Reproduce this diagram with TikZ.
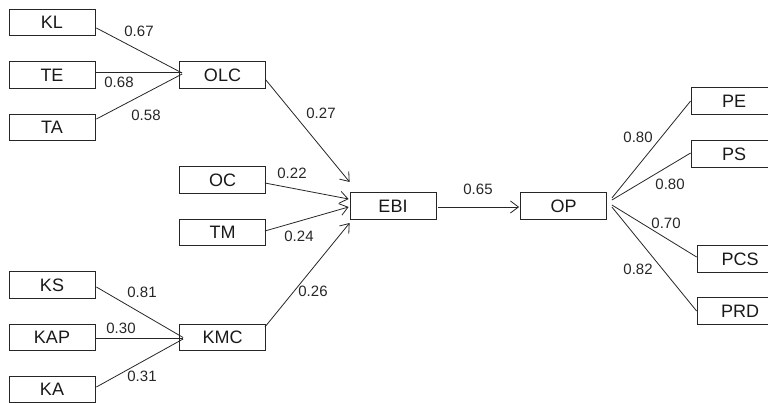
\documentclass[tikz,border=0pt]{standalone}
\usepackage{fontspec}
\setmainfont{Liberation Sans}
\usetikzlibrary{arrows.meta,calc}
\begin{document}
\begin{tikzpicture}[x=1pt,y=-1pt,
 box/.style={draw=black!85, line width=0.8pt, minimum width=86pt, minimum height=26.5pt, inner sep=0pt, font=\fontsize{18}{18}\selectfont, text=black!90},
 lbl/.style={font=\fontsize{15}{15}\selectfont, inner sep=0pt, text=black!85},
 ln/.style={draw=black!85, line width=0.8pt},
 arr/.style={ln, -{Straight Barb[length=8pt,width=12pt,line width=0.8pt]}}]
\useasboundingbox (0,0) rectangle (768,402);
\clip (0,0) rectangle (768,402);
% nodes
\node[box] (KL) at (52,22.5) {KL};
\node[box] (TE) at (52,75) {TE};
\node[box] (TA) at (52,127.5) {TA};
\node[box] (OLC) at (222.5,75) {OLC};
\node[box] (OC) at (222.5,180) {OC};
\node[box] (TM) at (222.5,232.5) {TM};
\node[box] (EBI) at (393,206) {EBI};
\node[box] (OP) at (563.5,206) {OP};
\node[box] (KS) at (52,285) {KS};
\node[box] (KAP) at (52,337.5) {KAP};
\node[box] (KA) at (52,389.5) {KA};
\node[box] (KMC) at (222.5,337.5) {KMC};
\node[box] (PE) at (734,101) {PE};
\node[box] (PS) at (734,154) {PS};
\node[box] (PCS) at (740,259) {PCS};
\node[box] (PRD) at (740,311) {PRD};
% edges into OLC
\draw[ln] ($(KL.east)+(1,5.5)$) -- ($(OLC.west)+(3,-2)$);
\draw[ln] ($(TE.east)+(1,-3)$) -- ($(OLC.west)+(3,-3)$);
\draw[ln] ($(TA.east)+(1,-8.5)$) -- ($(OLC.west)+(3,-1)$);
% edges into KMC
\draw[ln] ($(KS.east)+(1,2)$) -- ($(KMC.west)+(4,0)$);
\draw[ln] ($(KAP.east)+(1,0.5)$) -- ($(KMC.west)+(4,0.5)$);
\draw[ln] ($(KA.east)+(1,-2.5)$) -- ($(KMC.west)+(4,1.5)$);
% edges into EBI
\draw[arr] ($(OLC.east)+(0,5)$) -- ($(EBI.west)+(0,-24)$);
\draw[arr] ($(OC.east)+(-1,3)$) -- ($(EBI.west)+(-1,-7)$);
\draw[arr] ($(TM.east)+(-1,-1.5)$) -- ($(EBI.west)+(-1,1)$);
\draw[arr] ($(KMC.east)+(-1,-10.5)$) -- ($(EBI.west)+(0,17)$);
\draw[arr] ($(EBI.east)+(2,1)$) -- ($(OP.west)+(-1,1)$);
% edges out of OP
\draw[ln] ($(OP.east)+(5,-8)$) -- (PE.west);
\draw[ln] ($(OP.east)+(5,-6)$) -- ($(PS.west)+(0,-1)$);
\draw[ln] ($(OP.east)+(5,-1)$) -- ($(PCS.west)+(0,-2)$);
\draw[ln] ($(OP.east)+(5,1)$) -- (PRD.west);
% labels
\node[lbl] (l1) at (139,31) {0.67};
\node[lbl] (l2) at (119,82) {0.68};
\node[lbl] (l3) at (146,115) {0.58};
\node[lbl] (l4) at (321,113) {0.27};
\node[lbl] (l5) at (292,173) {0.22};
\node[lbl] (l6) at (299,236) {0.24};
\node[lbl] (l7) at (313,291) {0.26};
\node[lbl] (l8) at (478,189) {0.65};
\node[lbl] (l9) at (142,292) {0.81};
\node[lbl] (l10) at (121,328) {0.30};
\node[lbl] (l11) at (142,376) {0.31};
\node[lbl] (l12) at (638,137) {0.80};
\node[lbl] (l13) at (670,184) {0.80};
\node[lbl] (l14) at (666,223) {0.70};
\node[lbl] (l15) at (638,269) {0.82};
\end{tikzpicture}
\end{document}
